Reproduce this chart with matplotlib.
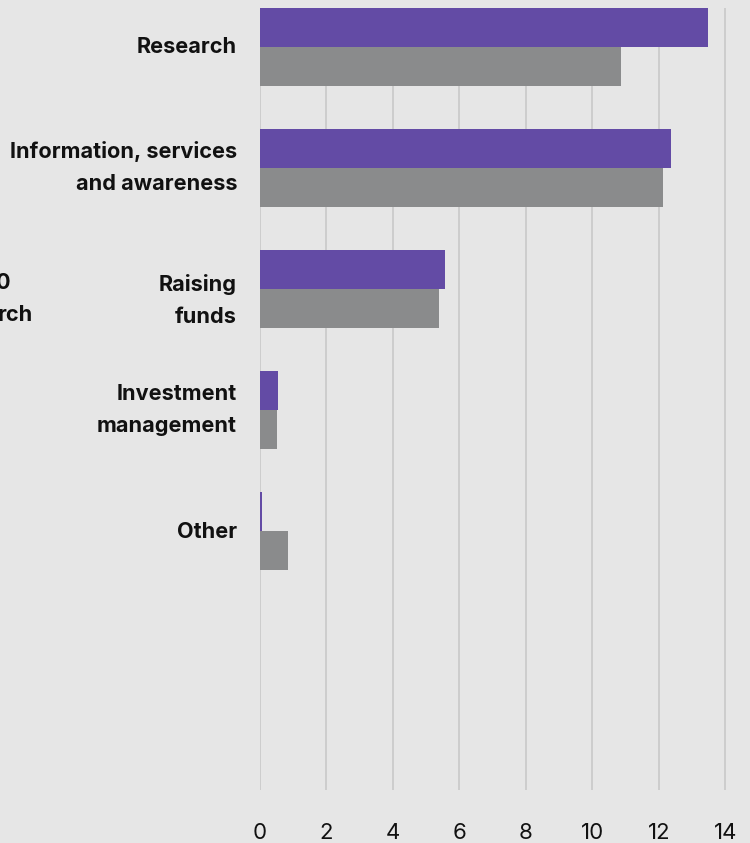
import matplotlib.pyplot as plt
from matplotlib.transforms import ScaledTranslation
import numpy as np

categories = ['Research', 'Information, services\nand awareness', 'Raising\nfunds',
              'Investment\nmanagement', 'Other']
purple_vals = [13.48, 12.35, 5.57, 0.54, 0.06]
grey_vals   = [10.86, 12.12, 5.38, 0.51, 0.84]
x_ticks     = [0, 2, 4, 6, 8, 10, 12, 14]

BG     = '#e6e6e6'
PURPLE = '#634ba5'
GREY   = '#8a8b8c'
GRID   = '#c9c9c9'
INK    = '#111111'

# small vertical nudges of the category labels, in pixels (up = positive)
label_nudge = [0, 0, -12, 0, -1]

plt.rcParams['font.family'] = ['Inter', 'DejaVu Sans']

fig = plt.figure(figsize=(7.5, 8.43), dpi=100, facecolor=BG)
ax = fig.add_axes([260 / 750, 53 / 843, 490 / 750, 782 / 843], facecolor=BG)

y = np.arange(len(categories))
h = 0.322
ax.barh(y - h / 2, purple_vals, height=h, color=PURPLE, zorder=3)
ax.barh(y + h / 2, grey_vals, height=h, color=GREY, zorder=3)

ax.set_xlim(0, 14.74)
ax.set_ylim(6.14, -0.322)
ax.set_xticks(x_ticks)
ax.set_xticklabels([str(t) for t in x_ticks], fontsize=16, color=INK)
ax.set_yticks([])
ax.tick_params(axis='both', length=0)
ax.tick_params(axis='x', pad=24)
ax.grid(axis='x', color=GRID, lw=1.2, zorder=0)
for s in ax.spines.values():
    s.set_visible(False)

for yi, name, dy in zip(y, categories, label_nudge):
    tr = ax.get_yaxis_transform() + ScaledTranslation(-23 / 100, dy / 100, fig.dpi_scale_trans)
    ax.text(0, yi, name, transform=tr, ha='right', va='center', ma='right',
            fontsize=15.6, fontweight='bold', color=INK, linespacing=1.75)

# only the visible ends of a text from the neighbouring panel
fig.text(11 / 750, 1 - 283 / 843, '0', ha='right', va='center',
         fontsize=15.6, fontweight='bold', color=INK)
fig.text(33 / 750, 1 - 315 / 843, 'rch', ha='right', va='center',
         fontsize=15.6, fontweight='bold', color=INK)

fig.savefig('out.png', dpi=100, facecolor=BG)
